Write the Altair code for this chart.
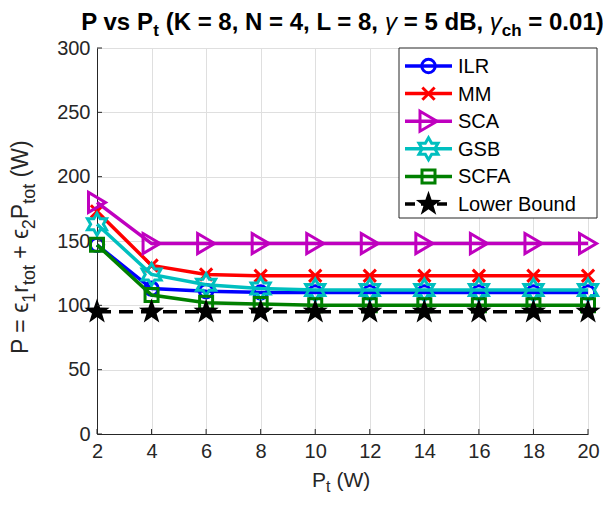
import math
import altair as alt
import pandas as pd

# ---------------- data ----------------
x_vals = [2, 4, 6, 8, 10, 12, 14, 16, 18, 20]
ilr = [147, 113, 111, 110, 110, 110, 110, 110, 110, 110]
mm = [173, 131, 124, 123, 123, 123, 123, 123, 123, 123]
sca = [180, 148, 148, 148, 148, 148, 148, 148, 148, 148]
gsb = [163, 124, 116, 113, 112, 112, 112, 112, 112, 112]
scfa = [147, 108, 102, 101, 100, 100, 100, 100, 100, 100]
lower = [95, 95, 95, 95, 95, 95, 95, 95, 95, 95]
series_names = ["ILR", "MM", "SCA", "GSB", "SCFA", "Lower Bound"]
series_values = [ilr, mm, sca, gsb, scfa, lower]
x_ticks = [2, 4, 6, 8, 10, 12, 14, 16, 18, 20]
y_ticks = [0, 50, 100, 150, 200, 250, 300]

# ---------------- styling ----------------
FONT = "Liberation Sans, Arial, Helvetica, sans-serif"
AX = "#262626"
GRID = "#dfdfdf"
W, H = 491, 386
X0, Y0 = 97, 48  # page position of plot origin

# approximate Arial advance widths (em) used to chain text pieces
REG = {" ": .278, "P": .667, "=": .584, "+": .584, "r": .333, "t": .278, "o": .556,
       "(": .333, ")": .333, "W": .944, "1": .556, "2": .556, "ϵ": .42}
BOLD = {" ": .278, "P": .667, "v": .556, "s": .556, "(": .333, ")": .333, "K": .722,
        "=": .584, "8": .556, ",": .278, "N": .722, "4": .556, "L": .611, "5": .556,
        "d": .611, "B": .722, "t": .333, "c": .556, "h": .611, "0": .556, ".": .278,
        "1": .556, "γ": .5}


def width(s, size, bold=False):
    tab = BOLD if bold else REG
    return sum(tab.get(ch, .556) for ch in s) * size


def star_path(n, r_in):
    pts = []
    for k in range(2 * n):
        r = 1.0 if k % 2 == 0 else r_in
        a = -math.pi / 2 + k * math.pi / n
        pts.append(f"{r * math.cos(a):.3f},{r * math.sin(a):.3f}")
    return "M" + "L".join(pts) + "Z"


styles = [
    dict(color="#0000ff", shape="circle", size=180, filled=False, dash=None),
    dict(color="#ff0000", shape="M-1,-1L1,1M-1,1L1,-1", size=150, filled=False, dash=None),
    dict(color="#bf00bf", shape="M-0.85,-1L0.85,0L-0.85,1Z", size=400, filled=False, dash=None),
    dict(color="#00bfbf", shape=star_path(6, 0.577), size=484, filled=False, dash=None),
    dict(color="#008000", shape="square", size=169, filled=False, dash=None),
    dict(color="#000000", shape=star_path(5, 0.40), size=700, filled=True, dash=[14, 8]),
]

xs = alt.Scale(domain=[2, 20], nice=False, zero=False)
ys = alt.Scale(domain=[0, 300], nice=False, zero=True)
x_axis = alt.Axis(values=x_ticks, title=None, grid=True, gridColor=GRID, ticks=False,
                  labelPadding=7, labelFontSize=20, labelFont=FONT, labelColor=AX,
                  domainColor=AX, domainWidth=1, labelFlush=False)
y_axis = alt.Axis(values=y_ticks, title=None, grid=True, gridColor=GRID, ticks=False,
                  labelPadding=7, labelFontSize=20, labelFont=FONT, labelColor=AX,
                  domainColor=AX, domainWidth=1)

layers = []
for name, vals, st in zip(series_names, series_values, styles):
    df = pd.DataFrame({"x": x_vals, "y": vals, "series": name})
    base = alt.Chart(df).encode(
        x=alt.X("x:Q", scale=xs, axis=x_axis),
        y=alt.Y("y:Q", scale=ys, axis=y_axis),
    )
    line_kw = dict(color=st["color"], strokeWidth=3.5)
    if st["dash"]:
        line_kw["strokeDash"] = st["dash"]
    layers.append(base.mark_line(**line_kw))
    pt_kw = dict(shape=st["shape"], size=st["size"], color=st["color"],
                 filled=st["filled"], strokeWidth=3, opacity=1)
    if st["filled"]:
        pt_kw["fill"] = st["color"]
    layers.append(base.mark_point(**pt_kw))

# inward tick marks
xt = pd.DataFrame({"x": x_ticks})
yt = pd.DataFrame({"y": y_ticks})
layers.append(alt.Chart(xt).mark_rule(color=AX, strokeWidth=1).encode(
    x=alt.X("x:Q", scale=xs, axis=x_axis), y=alt.value(H), y2=alt.value(H - 5)))
layers.append(alt.Chart(yt).mark_rule(color=AX, strokeWidth=1).encode(
    y=alt.Y("y:Q", scale=ys, axis=y_axis), x=alt.value(0), x2=alt.value(5)))

one = pd.DataFrame({"v": [0]})


def txt(s, px, py, size, weight="normal", angle=0, style="normal", color=AX):
    return alt.Chart(one).mark_text(
        text=s, align="left", baseline="alphabetic", fontSize=size, fontWeight=weight,
        font=FONT, angle=angle, fontStyle=style, color=color
    ).encode(x=alt.value(px - X0), y=alt.value(py - Y0))


# ---------------- legend ----------------
LX1, LX2, LY1, LY2 = 399, 597, 48, 218
layers.append(alt.Chart(one).mark_rect(fill="white", stroke=AX, strokeWidth=1).encode(
    x=alt.value(LX1 - X0), x2=alt.value(LX2 - X0), y=alt.value(LY1 - Y0), y2=alt.value(LY2 - Y0)))
for i, (name, st) in enumerate(zip(series_names, styles)):
    cy = 66 + 27.6 * i - Y0
    rk = dict(color=st["color"], strokeWidth=3.5)
    if st["dash"]:
        rk["strokeDash"] = [10, 6]
    layers.append(alt.Chart(one).mark_rule(**rk).encode(
        x=alt.value(405 - X0), x2=alt.value(452 - X0), y=alt.value(cy)))
    pk = dict(shape=st["shape"], size=st["size"], color=st["color"], filled=st["filled"],
              strokeWidth=3, opacity=1)
    if st["filled"]:
        pk["fill"] = st["color"]
    layers.append(alt.Chart(one).mark_point(**pk).encode(
        x=alt.value(428.5 - X0), y=alt.value(cy)))
    layers.append(alt.Chart(one).mark_text(
        text=name, align="left", baseline="middle", fontSize=20, font=FONT, color="#000000"
    ).encode(x=alt.value(458 - X0), y=alt.value(cy + 1)))


def lead(s):
    return s[:len(s) - len(s.lstrip(" "))]


# ---------------- title (chained pieces, sub = subscript) ----------------
TSIZE, TSUB = 24, 17
TB = 30
title_pieces = [("P vs P", False), ("t", True), (" (K = 8, N = 4, L = 8, ", False),
                ("γ", False), (" = 5 dB, ", False), ("γ", False), ("ch", True),
                (" = 0.01)", False)]
total = sum(width(s, TSUB if sub else TSIZE, True) for s, sub in title_pieces)
cx = X0 + W / 2 - total / 2
for s, sub in title_pieces:
    sz = TSUB if sub else TSIZE
    off = width(lead(s), sz, True)
    if s == "γ":
        layers.append(txt(s, cx, TB, sz, "normal", style="italic", color="#000000"))
    else:
        layers.append(txt(s.strip(), cx + off, TB + (6 if sub else 0), sz, "bold", color="#000000"))
    cx += width(s, sz, True)

# ---------------- x-axis title ----------------
XB = 487
layers += [
    txt("P", 312, XB, 21),
    txt("t", 312 + width("P", 21), XB + 5, 16),
    txt("(W)", 312 + width("P", 21) + width("t", 16) + 6, XB, 21),
]

# ---------------- y-axis title (rotated, chained bottom -> top) ----------------
YM, YSB = 28, 35
YSIZE, YSUBS = 23, 18
y_pieces = [("P = ϵ", False), ("1", True), ("r", False), ("tot", True), (" + ϵ", False),
            ("2", True), ("P", False), ("tot", True), (" (W)", False)]
cy = 354
for s, sub in y_pieces:
    sz = YSUBS if sub else YSIZE
    off = width(lead(s), sz)
    layers.append(txt(s.strip(), YSB if sub else YM, cy - off, sz, angle=270))
    cy -= width(s, sz)

chart = alt.layer(*layers).properties(
    width=W, height=H,
    padding={"left": X0 - 8, "top": Y0 - 8, "right": 15, "bottom": 62},
    autosize=alt.AutoSizeParams(type="none"),
).configure_view(stroke=None)

chart.save("out.html", embed_options={"renderer": "svg", "actions": False})
